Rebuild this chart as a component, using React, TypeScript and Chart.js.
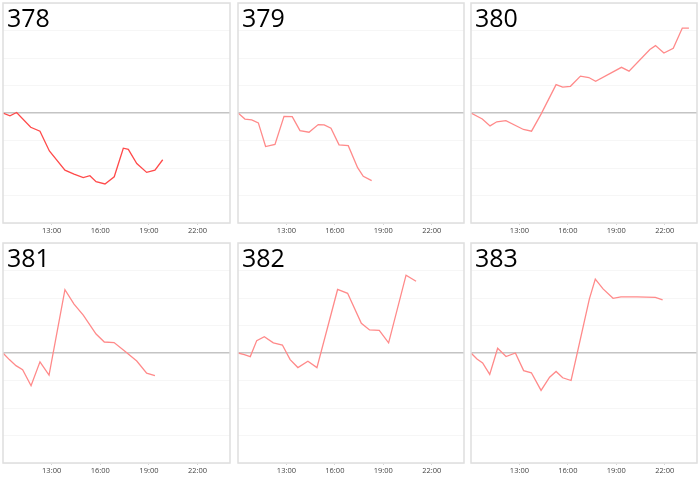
import { useEffect, useRef } from "react";
import { Chart, registerables } from "chart.js";

Chart.register(...registerables);

// hours of the day (x) and relative change (y) for each station panel
const HOURS_378 = [10.0, 10.43, 10.84, 11.71, 12.28, 12.86, 13.82, 14.38, 14.95, 15.36, 15.74, 16.29, 16.86, 17.42, 17.73, 18.25, 18.86, 19.37, 19.85];
const VALUES_378 = [0, -0.1, 0.02, -0.52, -0.66, -1.38, -2.08, -2.22, -2.35, -2.28, -2.5, -2.58, -2.32, -1.28, -1.32, -1.84, -2.16, -2.08, -1.7];

const HOURS_379 = [10.0, 10.43, 10.85, 11.26, 11.71, 12.29, 12.85, 13.36, 13.84, 14.4, 14.97, 15.34, 15.76, 16.26, 16.83, 17.41, 17.76, 18.28];
const VALUES_379 = [0, -0.22, -0.25, -0.36, -1.22, -1.14, -0.12, -0.13, -0.64, -0.7, -0.42, -0.43, -0.55, -1.16, -1.19, -1.99, -2.3, -2.46];

const HOURS_380 = [10.0, 10.7, 11.18, 11.6, 12.16, 13.25, 13.75, 14.34, 15.27, 15.68, 16.16, 16.78, 17.3, 17.72, 19.32, 19.79, 21.08, 21.43, 21.95, 22.53, 23.09, 23.5];
const VALUES_380 = [0, -0.22, -0.47, -0.32, -0.28, -0.6, -0.66, -0.04, 1.03, 0.94, 0.97, 1.34, 1.29, 1.15, 1.66, 1.52, 2.31, 2.45, 2.18, 2.35, 3.09, 3.09];

const HOURS_381 = [10.0, 10.39, 10.8, 11.21, 11.73, 12.28, 12.84, 13.82, 14.38, 14.95, 15.74, 16.25, 16.85, 17.52, 18.25, 18.86, 19.37];
const VALUES_381 = [0, -0.24, -0.46, -0.61, -1.19, -0.32, -0.8, 2.3, 1.78, 1.38, 0.69, 0.4, 0.38, 0.06, -0.29, -0.73, -0.82];

const HOURS_382 = [10.0, 10.39, 10.76, 11.16, 11.63, 12.19, 12.75, 13.23, 13.71, 14.33, 14.89, 16.17, 16.79, 17.64, 18.15, 18.75, 19.33, 20.41, 21.03];
const VALUES_382 = [0, -0.06, -0.13, 0.45, 0.59, 0.37, 0.29, -0.24, -0.53, -0.3, -0.53, 2.31, 2.17, 1.08, 0.84, 0.82, 0.37, 2.83, 2.61];

const HOURS_383 = [10.0, 10.37, 10.72, 11.16, 11.65, 12.17, 12.75, 13.26, 13.74, 14.34, 14.87, 15.27, 15.68, 16.2, 16.73, 17.33, 17.7, 18.18, 18.8, 19.29, 20.28, 21.42, 21.87];
const VALUES_383 = [0, -0.22, -0.36, -0.78, 0.17, -0.13, 0, -0.64, -0.72, -1.36, -0.88, -0.67, -0.9, -1.0, 0.39, 1.96, 2.69, 2.33, 1.99, 2.04, 2.04, 2.02, 1.93];

const X_TICKS = [13, 16, 19, 22];
const X_MIN = 10;
const X_MAX = 24;
const Y_MIN = -4;
const Y_MAX = 4;

const PANELS = [
  { id: "378", hours: HOURS_378, values: VALUES_378, color: "#ff4a4a" },
  { id: "379", hours: HOURS_379, values: VALUES_379, color: "#ff8a8a" },
  { id: "380", hours: HOURS_380, values: VALUES_380, color: "#ff8a8a" },
  { id: "381", hours: HOURS_381, values: VALUES_381, color: "#ff8a8a" },
  { id: "382", hours: HOURS_382, values: VALUES_382, color: "#ff8a8a" },
  { id: "383", hours: HOURS_383, values: VALUES_383, color: "#ff8a8a" },
];

// cell left / width per column, each row is 240px tall
const COL_LEFT = [0, 235, 468];
const COL_WIDTH = [233, 232, 232];
const ROW_HEIGHT = 240;

function Panel({ id, hours, values, color, width }: { id: string; hours: number[]; values: number[]; color: string; width: number }) {
  const canvasRef = useRef<HTMLCanvasElement>(null);

  useEffect(() => {
    if (!canvasRef.current) return;
    const chart = new Chart(canvasRef.current, {
      type: "line",
      data: {
        datasets: [{
          data: hours.map((h, i) => ({ x: h, y: values[i] })),
          borderColor: color,
          borderWidth: 1.3,
          pointRadius: 0,
          tension: 0,
          fill: false,
        }],
      },
      options: {
        animation: false,
        responsive: false,
        layout: { padding: { left: 3, right: 3, top: 3, bottom: 0 } },
        plugins: { legend: { display: false }, tooltip: { enabled: false } },
        scales: {
          x: {
            type: "linear",
            min: X_MIN,
            max: X_MAX,
            afterBuildTicks: (s: any) => { s.ticks = X_TICKS.map((v) => ({ value: v })); },
            afterFit: (s: any) => { s.height = 17; },
            grid: { drawOnChartArea: false, drawTicks: true, tickLength: 2, color: "#d4d4d4" },
            border: { display: false },
            ticks: {
              font: { size: 7.5, family: "Open Sans" },
              color: "#444",
              padding: 1,
              maxRotation: 0,
              autoSkip: false,
              callback: (v: any) => `${v}:00`,
            },
          },
          y: {
            min: Y_MIN,
            max: Y_MAX,
            afterFit: (s: any) => { s.width = 0; },
            border: { display: false },
            ticks: { display: false, stepSize: 1 },
            grid: {
              drawTicks: false,
              color: (ctx: any) => (ctx.tick.value === 0 ? "#c4c4c4" : "#f6f6f6"),
              lineWidth: (ctx: any) => (ctx.tick.value === 0 ? 1.5 : 1),
            },
          },
        },
      },
      plugins: [{
        id: "frameAndTitle",
        afterDraw(c) {
          const { ctx, chartArea: a } = c;
          ctx.save();
          ctx.strokeStyle = "#dedede";
          ctx.lineWidth = 1.5;
          ctx.strokeRect(a.left, a.top, a.right - a.left, a.bottom - a.top);
          ctx.fillStyle = "#000";
          ctx.font = "25px 'Open Sans', sans-serif";
          ctx.textBaseline = "alphabetic";
          ctx.fillText(id, a.left + 4, a.top + 24);
          ctx.restore();
        },
      }],
    });
    return () => chart.destroy();
  }, [id, hours, values, color]);

  return <canvas ref={canvasRef} width={width} height={ROW_HEIGHT} style={{ display: "block" }} />;
}

export default function App() {
  return (
    <div style={{ position: "absolute", left: 0, top: 0, width: 700, height: 480, background: "#fff" }}>
      {PANELS.map((p, i) => {
        const col = i % 3;
        const row = Math.floor(i / 3);
        return (
          <div key={p.id} style={{ position: "absolute", left: COL_LEFT[col], top: row * ROW_HEIGHT, width: COL_WIDTH[col], height: ROW_HEIGHT }}>
            <Panel id={p.id} hours={p.hours} values={p.values} color={p.color} width={COL_WIDTH[col]} />
          </div>
        );
      })}
    </div>
  );
}
